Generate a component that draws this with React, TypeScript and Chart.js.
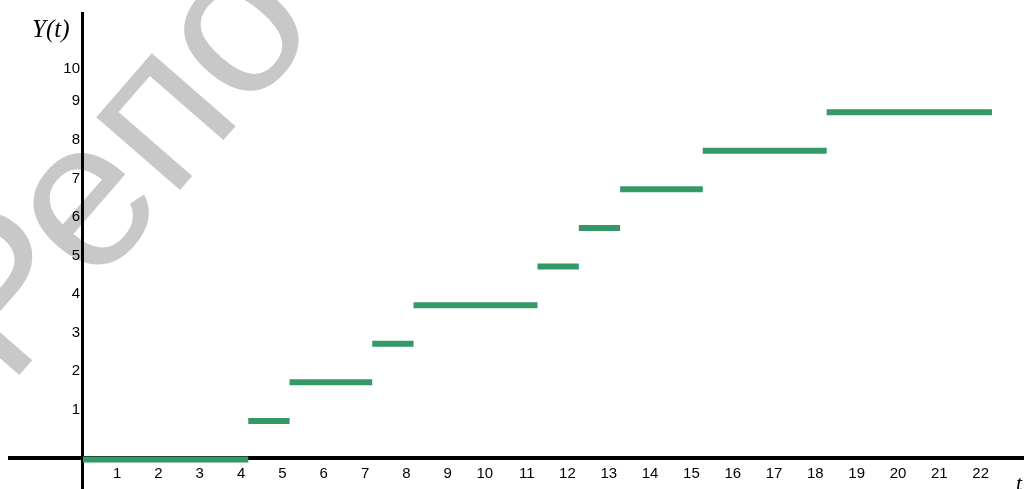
import React, { useEffect, useRef } from 'react';
import { Chart, registerables } from 'chart.js';

Chart.register(...registerables);

// Step function Y(t): value levels[i] holds on [breakpoints[i], breakpoints[i+1])
const breakpoints = [0, 4, 5, 7, 8, 11, 12, 13, 15, 18, 22];
const levels = [0, 1, 2, 3, 4, 5, 6, 7, 8, 9];
const xTickValues = [1, 2, 3, 4, 5, 6, 7, 8, 9, 10, 11, 12, 13, 14, 15, 16, 17, 18, 19, 20, 21, 22];
const yTickValues = [1, 2, 3, 4, 5, 6, 7, 8, 9, 10];
const watermarkText = 'Репо';
const yAxisTitle = 'Y(t)';
const xAxisTitle = 't';

const GREEN = '#339966';
const SANS = '"Liberation Sans", Arial, sans-serif';
const SERIF = '"Liberation Serif", "Times New Roman", serif';

function buildPoints() {
  const pts: { x: number; y: number | null }[] = [];
  for (let i = 0; i < levels.length; i++) {
    pts.push({ x: breakpoints[i], y: levels[i] });
    pts.push({ x: breakpoints[i + 1], y: levels[i] });
    if (i < levels.length - 1) pts.push({ x: breakpoints[i + 1], y: null });
  }
  return pts;
}

const watermarkPlugin = {
  id: 'watermark',
  beforeDraw(chart: any) {
    const ctx = chart.ctx;
    ctx.save();
    ctx.translate(8, 388);
    ctx.rotate((-49 * Math.PI) / 180);
    ctx.font = `210px ${SANS}`;
    ctx.fillStyle = '#c8c8c8';
    ctx.textBaseline = 'alphabetic';
    ctx.textAlign = 'left';
    ctx.fillText(watermarkText, 0, 0);
    ctx.restore();
  },
};

const axesPlugin = {
  id: 'crossAxes',
  beforeDatasetsDraw(chart: any) {
    const ctx = chart.ctx;
    const x0 = chart.scales.x.getPixelForValue(0);
    const y0 = chart.scales.y.getPixelForValue(0);
    ctx.save();
    ctx.fillStyle = '#000';
    ctx.fillRect(x0 - 2, 12, 3, chart.height - 12);
    ctx.fillRect(8, y0 - 3.5, chart.width - 8, 4);
    ctx.restore();
  },
  afterDraw(chart: any) {
    const ctx = chart.ctx;
    ctx.save();
    ctx.fillStyle = '#000';
    ctx.textBaseline = 'alphabetic';
    ctx.textAlign = 'left';
    ctx.font = `italic 25px ${SERIF}`;
    ctx.fillText(yAxisTitle, 32, 37);
    ctx.font = `italic 22px ${SERIF}`;
    ctx.fillText(xAxisTitle, 1016, 490);
    ctx.restore();
  },
};

export default function App() {
  const ref = useRef<HTMLCanvasElement | null>(null);

  useEffect(() => {
    if (!ref.current) return;
    const chart = new Chart(ref.current, {
      type: 'line',
      data: {
        datasets: [
          {
            data: buildPoints() as any,
            borderColor: GREEN,
            backgroundColor: GREEN,
            borderWidth: 6,
            borderCapStyle: 'butt',
            pointRadius: 0,
            pointHoverRadius: 0,
            spanGaps: false,
            tension: 0,
            clip: false as any,
          },
        ],
      },
      options: {
        animation: false,
        responsive: false,
        devicePixelRatio: 1,
        events: [],
        layout: { padding: { top: 35, left: 0, right: 0, bottom: 0 } },
        plugins: {
          legend: { display: false },
          tooltip: { enabled: false },
        },
        scales: {
          x: {
            type: 'linear',
            min: 0,
            max: 22.775,
            grid: { display: false, drawTicks: false },
            border: { display: false },
            afterBuildTicks: (s: any) => {
              s.ticks = xTickValues.map((v) => ({ value: v }));
            },
            afterFit: (s: any) => {
              s.height = 29.5;
            },
            ticks: {
              autoSkip: false,
              maxRotation: 0,
              minRotation: 0,
              align: 'end',
              labelOffset: -3,
              padding: 5,
              color: '#000',
              font: { family: SANS, size: 15 },
              callback: (v: any) => String(v),
            },
          },
          y: {
            type: 'linear',
            min: 0,
            max: 11,
            grid: { display: false, drawTicks: false },
            border: { display: false },
            afterBuildTicks: (s: any) => {
              s.ticks = yTickValues.map((v) => ({ value: v }));
            },
            afterFit: (s: any) => {
              s.width = 83;
            },
            ticks: {
              autoSkip: false,
              padding: 3,
              labelOffset: -11,
              color: '#000',
              font: (ctx: any) => ({
                family: SANS,
                size: 15,
                lineHeight: ctx && ctx.tick && ctx.tick.value === 10 ? 0.88 : 1.2,
              }),
              callback: (v: any) => (v === 10 ? ['', '10'] : String(v)),
            },
          },
        },
      },
      plugins: [watermarkPlugin, axesPlugin],
    });
    return () => chart.destroy();
  }, []);

  return (
    <canvas
      ref={ref}
      width={1024}
      height={489}
      style={{ position: 'fixed', left: 0, top: 0, width: 1024, height: 489 }}
    />
  );
}
